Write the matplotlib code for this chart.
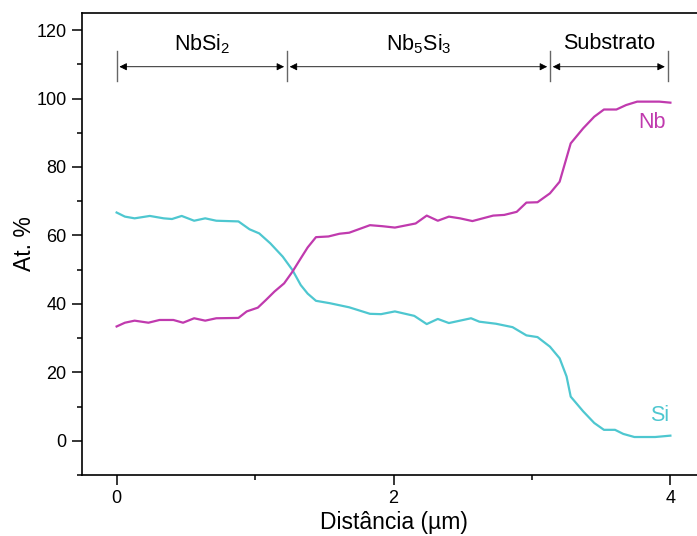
import matplotlib
matplotlib.use("Agg")
import matplotlib.pyplot as plt
from matplotlib.ticker import MultipleLocator

plt.rcParams['font.family'] = ['Liberation Sans', 'DejaVu Sans']
plt.rcParams['mathtext.fontset'] = 'custom'
plt.rcParams['mathtext.rm'] = 'Liberation Sans'
plt.rcParams['mathtext.it'] = 'Liberation Sans'

# Si profile (At. %) vs distance (um)
si_x = [0, 0.06, 0.13, 0.24, 0.34, 0.40, 0.47, 0.56, 0.64, 0.72, 0.88, 0.96,
        1.03, 1.11, 1.20, 1.27, 1.33, 1.38, 1.44, 1.54, 1.68, 1.83, 1.91, 2.01,
        2.15, 2.24, 2.32, 2.40, 2.56, 2.62, 2.74, 2.86, 2.96, 3.04, 3.13, 3.20,
        3.25, 3.28, 3.37, 3.45, 3.52, 3.60, 3.66, 3.74, 3.89, 4.00]
si_y = [66.7, 65.5, 65.0, 65.7, 65.0, 64.8, 65.7, 64.3, 65.0, 64.3, 64.1, 61.8,
        60.6, 57.7, 53.8, 49.9, 45.5, 43.0, 40.9, 40.2, 39.0, 37.1, 37.0, 37.8,
        36.5, 34.1, 35.6, 34.4, 35.8, 34.8, 34.2, 33.2, 30.8, 30.3, 27.5, 24.1,
        18.8, 12.9, 8.6, 5.2, 3.2, 3.2, 2.0, 1.1, 1.1, 1.5]

# Nb profile
nb_x = [0, 0.06, 0.13, 0.23, 0.31, 0.41, 0.48, 0.56, 0.64, 0.72, 0.88, 0.94,
        1.02, 1.08, 1.14, 1.21, 1.27, 1.33, 1.38, 1.44, 1.53, 1.61, 1.68, 1.83,
        1.92, 2.01, 2.16, 2.24, 2.32, 2.40, 2.48, 2.57, 2.72, 2.80, 2.89, 2.96,
        3.04, 3.13, 3.20, 3.28, 3.37, 3.45, 3.52, 3.61, 3.68, 3.76, 3.92, 4.00]
nb_y = [33.4, 34.5, 35.1, 34.5, 35.3, 35.3, 34.5, 35.8, 35.1, 35.8, 35.9, 37.8,
        38.9, 41.2, 43.6, 46.0, 49.4, 53.3, 56.5, 59.5, 59.7, 60.5, 60.8, 63.0,
        62.7, 62.3, 63.5, 65.8, 64.3, 65.5, 65.0, 64.2, 65.8, 66.0, 66.9, 69.6,
        69.7, 72.3, 75.7, 86.9, 91.3, 94.7, 96.8, 96.8, 98.1, 99.1, 99.1, 98.8]

# layer boundaries and names
bounds = [0, 1.23, 3.13, 3.98]
layers = ["NbSi$_2$", "Nb$_5$Si$_3$", "Substrato"]

nb_color = "#C03AAE"
si_color = "#4EC7D0"

fig = plt.figure(figsize=(6.97, 5.36), dpi=100)
ax = fig.add_axes([82 / 697, 61 / 536, 623 / 697, 462 / 536])

ax.plot(si_x, si_y, color=si_color, lw=1.6)
ax.plot(nb_x, nb_y, color=nb_color, lw=1.6)

ax.text(3.87, 93, "Nb", color=nb_color, fontsize=15.5, ha="center", va="center")
ax.text(3.92, 7.5, "Si", color=si_color, fontsize=15.5, ha="center", va="center")

# layer arrows
arrow_y = 109.3
for b in bounds:
    ax.plot([b, b], [105, 114], color="#666666", lw=1.0)
for i in range(len(layers)):
    a, b = bounds[i], bounds[i + 1]
    ax.annotate("", xy=(b - 0.02, arrow_y), xytext=(a + 0.02, arrow_y),
                arrowprops=dict(arrowstyle="<|-|>", color="black", lw=0.6,
                                mutation_scale=11, shrinkA=0, shrinkB=0))
    ax.text((a + b) / 2, 116, layers[i], fontsize=15.5, ha="center", va="center")

ax.set_xlim(-0.25, 4.25)
ax.set_ylim(-10, 125)
ax.xaxis.set_major_locator(MultipleLocator(2))
ax.xaxis.set_minor_locator(MultipleLocator(1))
ax.yaxis.set_major_locator(MultipleLocator(20))
ax.yaxis.set_minor_locator(MultipleLocator(10))
ax.tick_params(which="major", length=7, width=1.1, labelsize=13, direction="out")
ax.tick_params(which="minor", length=3.5, width=1.1, direction="out")
ax.tick_params(axis="y", pad=4)
ax.spines["right"].set_visible(False)
for s in ["left", "bottom", "top"]:
    ax.spines[s].set_linewidth(1.2)

ax.set_xlabel("Distância (µm)", fontsize=16.5, labelpad=3)
ax.set_ylabel("At. %", fontsize=16.5, labelpad=0)

fig.savefig("out.png", dpi=100)
